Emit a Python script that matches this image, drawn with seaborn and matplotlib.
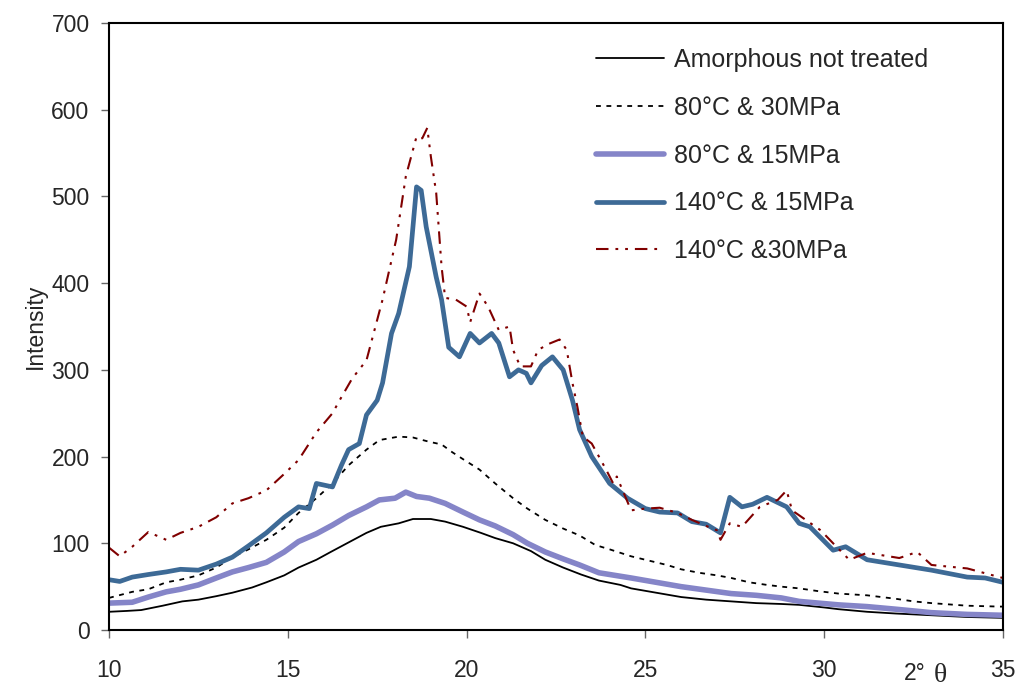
import numpy as np
import pandas as pd
import seaborn as sns
import matplotlib as mpl
mpl.use("Agg")
import matplotlib.pyplot as plt

# -------------------------
# Configuration
# -------------------------
sns.set_style("white")
plt.rcParams['font.family'] = ['Liberation Sans', 'DejaVu Sans']
mpl.rcParams['lines.scale_dashes'] = False

# -------------------------
# Data
# -------------------------
x_amorph = [10, 10.5, 10.9, 11.5, 12.05, 12.5, 13.0, 13.45, 14.0, 14.4, 14.9,
            15.3, 15.8, 16.2, 16.7, 17.2, 17.6, 18.1, 18.5, 19.0, 19.4, 19.9,
            20.4, 20.8, 21.3, 21.8, 22.2, 22.7, 23.2, 23.7, 24.3, 24.6, 25.3,
            26.0, 26.7, 27.4, 28.1, 28.8, 29.3, 30.0, 30.4, 31.2, 32.0, 33.0,
            34.0, 35.0]
y_amorph = [21, 22, 23, 28, 33, 35, 39, 43, 49, 55, 63,
            72, 81, 90, 101, 112, 119, 123, 128, 128, 125, 119,
            112, 106, 100, 91, 81, 72, 64, 57, 52, 48, 43,
            38, 35, 33, 31, 30, 29, 26, 24, 21, 19, 17,
            15, 14]

x_80_30 = [10, 10.65, 11.1, 11.6, 12.0, 12.5, 13.0, 13.45, 13.9, 14.4, 14.9,
           15.3, 15.8, 16.25, 16.7, 17.2, 17.56, 18.1, 18.5, 18.96, 19.3, 19.6,
           19.9, 20.36, 20.8, 21.3, 21.7, 22.2, 22.7, 23.16, 23.6, 24.0, 24.6,
           25.1, 25.6, 26.0, 26.5, 27.0, 27.4, 27.9, 28.4, 28.8, 29.3, 29.8,
           30.4, 31.2, 32.0, 32.5, 33.0, 34.0, 34.9, 35]
y_80_30 = [37, 44, 47, 55, 58, 63, 72, 84, 93, 104, 118,
           135, 152, 169, 190, 208, 219, 223, 222, 217, 214, 205,
           197, 185, 169, 152, 140, 127, 117, 109, 98, 93, 85,
           80, 75, 70, 66, 63, 60, 55, 52, 50, 48, 45,
           42, 40, 36, 33, 31, 28, 27, 27]

x_80_15 = [10, 10.65, 11.1, 11.6, 12.0, 12.5, 13.0, 13.45, 13.9, 14.4, 14.9,
           15.3, 15.8, 16.25, 16.7, 17.2, 17.56, 18.0, 18.3, 18.6, 18.96, 19.4,
           19.9, 20.36, 20.8, 21.3, 21.7, 22.2, 22.7, 23.16, 23.7, 24.3, 24.6,
           25.3, 26.0, 26.7, 27.4, 28.1, 28.8, 29.3, 30.4, 31.2, 32.0, 33.0,
           34.0, 35]
y_80_15 = [31, 32, 38, 44, 47, 52, 60, 67, 72, 78, 90,
           102, 111, 121, 132, 142, 150, 152, 159, 154, 152, 146,
           136, 127, 120, 110, 100, 90, 82, 75, 66, 62, 60,
           55, 50, 46, 42, 40, 37, 33, 29, 27, 24, 20,
           18, 17]

x_140_15 = [10, 10.3, 10.65, 11.1, 11.6, 12.0, 12.5, 13.0, 13.45, 13.9, 14.4,
            14.9, 15.3, 15.6, 15.8, 16.25, 16.5, 16.7, 17.0, 17.2, 17.5, 17.65,
            17.9, 18.1, 18.4, 18.6, 18.73, 18.87, 19.15, 19.3, 19.5, 19.8, 20.1,
            20.36, 20.7, 20.9, 21.2, 21.45, 21.67, 21.8, 22.1, 22.4, 22.7, 22.96,
            23.16, 23.5, 24.0, 24.5, 25.0, 25.4, 25.9, 26.3, 26.7, 27.1, 27.36,
            27.7, 28.0, 28.4, 28.95, 29.3, 29.6, 30.25, 30.6, 31.2, 32.1, 33.0,
            34.0, 34.5, 35]
y_140_15 = [58, 56, 61, 64, 67, 70, 69, 76, 84, 97, 112,
            130, 142, 140, 169, 165, 190, 208, 215, 248, 265, 285,
            342, 365, 419, 511, 507, 465, 407, 381, 326, 315, 342,
            331, 342, 331, 292, 300, 296, 285, 305, 315, 300, 265,
            231, 200, 169, 152, 140, 136, 135, 125, 122, 112, 153,
            142, 145, 153, 142, 123, 119, 92, 96, 81, 75, 69,
            61, 60, 55]

x_140_30 = [10, 10.3, 10.65, 11.1, 11.6, 12.0, 12.5, 13.0, 13.45, 13.9, 14.4,
            14.9, 15.3, 15.8, 16.25, 16.45, 16.8, 17.2, 17.65, 18.03, 18.3, 18.6,
            18.76, 18.9, 19.0, 19.15, 19.3, 19.4, 19.7, 20.0, 20.1, 20.36, 20.6,
            20.9, 21.2, 21.3, 21.5, 21.8, 22.0, 22.3, 22.6, 22.8, 22.96, 23.1,
            23.25, 23.5, 23.9, 24.1, 24.2, 24.6, 25.0, 25.4, 25.9, 26.3, 26.7,
            27.0, 27.1, 27.36, 27.7, 28.2, 28.7, 28.95, 29.1, 29.9, 30.25, 30.7,
            31.2, 32.1, 32.6, 33.0, 34.0, 34.9, 35]
y_140_30 = [95, 85, 96, 113, 104, 112, 119, 130, 146, 152, 161,
            180, 196, 228, 250, 265, 290, 311, 381, 450, 523, 569,
            567, 579, 546, 504, 419, 383, 381, 373, 355, 388, 373,
            346, 350, 323, 304, 304, 323, 330, 335, 323, 285, 257,
            223, 215, 185, 169, 177, 138, 140, 141, 135, 127, 120,
            115, 104, 123, 119, 142, 150, 161, 138, 115, 100, 81,
            89, 83, 90, 75, 71, 61, 60]

labels = ['Amorphous not treated', '80°C & 30MPa', '80°C & 15MPa',
          '140°C & 15MPa', '140°C &30MPa']
series = [(x_amorph, y_amorph), (x_80_30, y_80_30), (x_80_15, y_80_15),
          (x_140_15, y_140_15), (x_140_30, y_140_30)]

# -------------------------
# Styles
# -------------------------
colors = ['black', 'black', '#8585c8', '#3d6a96', '#800000']
widths = [1.3, 1.3, 4.0, 3.4, 1.5]
styles = ['-', (0, (3.5, 4)), '-', '-', (0, (9, 5, 2, 5, 2, 5))]

# -------------------------
# Plot
# -------------------------
fig = plt.figure(figsize=(10.17, 6.9), dpi=100)
ax = fig.add_axes([109 / 1017, 60 / 690, 894 / 1017, 607 / 690])

for (xs, ys), lab, c, lw, ls in zip(series, labels, colors, widths, styles):
    df = pd.DataFrame({'theta': xs, 'intensity': ys})
    sns.lineplot(data=df, x='theta', y='intensity', ax=ax, color=c,
                 linewidth=lw, linestyle=ls, label=lab, estimator=None,
                 sort=False)

# Configure axes
ax.set_xlim(10, 35)
ax.set_ylim(0, 700)
ax.set_xticks(range(10, 36, 5))
ax.set_yticks(range(0, 701, 100))
ax.set_xlabel('')
ax.set_ylabel('Intensity', fontsize=16.5, labelpad=3)
ax.tick_params(axis='both', direction='out', length=6, width=1,
               color='#666666', labelsize=16.5, left=True, bottom=True)
ax.tick_params(axis='y', pad=8)
ax.tick_params(axis='x', pad=15)
for sp in ax.spines.values():
    sp.set_visible(True)
    sp.set_color('black')
    sp.set_linewidth(1.5)

# x label "2° θ"
ax.text(0.889, -0.072, '2°', transform=ax.transAxes, fontsize=16.5,
        ha='left', va='center')
ax.text(0.923, -0.075, 'θ', transform=ax.transAxes, fontsize=20,
        ha='left', va='center', family=['Liberation Serif', 'DejaVu Serif'])

# Legend
ax.legend(loc='upper left', bbox_to_anchor=((596 - 109) / 894, (630 - 48) / 607),
          frameon=False, fontsize=18, handlelength=2.7, handletextpad=0.4,
          labelspacing=0.95, borderpad=0, borderaxespad=0)

fig.savefig('out.png', dpi=100)
